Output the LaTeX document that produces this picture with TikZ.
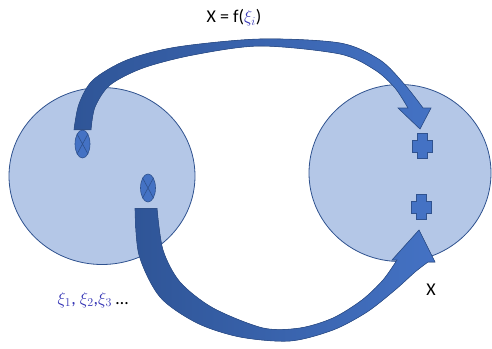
\documentclass[tikz,border=0pt]{standalone}
\usepackage{fontspec}
\setmainfont{Carlito}
\usetikzlibrary{shapes.geometric}
\definecolor{setfill}{HTML}{B4C7E7}
\definecolor{setline}{HTML}{2F528F}
\definecolor{arrdark}{HTML}{2F5597}
\definecolor{arrlight}{HTML}{4472C4}
\definecolor{xiblue}{HTML}{3535B5}
\begin{document}
\begin{tikzpicture}[x=1pt, y=-1pt, inner sep=0pt,
   set/.style={ellipse, draw=setline, fill=setfill, line width=.8pt},
   elem/.style={ellipse, draw=setline, fill=arrlight, line width=.6pt, minimum width=15pt, minimum height=28pt},
   band/.style={draw=setline, line width=.6pt, left color=arrdark, right color=arrlight},
   lbl/.style={font=\fontsize{18}{22}\selectfont}]
   \useasboundingbox (0,0) rectangle (492,348);
   \node[set, minimum width=186pt, minimum height=177pt] (A) at (102,176) {};
   \node[set, minimum width=182pt, minimum height=177pt] (B) at (400,173) {};
   \node[elem] (a1) at (82.5,144) {};
   \node[elem] (a2) at (148,188) {};
   \draw[setline, line width=.6pt] (a1.north west) -- (a1.south east) (a1.north east) -- (a1.south west);
   \draw[setline, line width=.6pt] (a2.north west) -- (a2.south east) (a2.north east) -- (a2.south west);
   \coordinate (b1) at (422,146);
   \coordinate (b2) at (421,207);
   \foreach \p in {b1,b2}
      \filldraw[draw=setline, fill=arrlight, line width=.6pt] (\p) ++(-5,-12.5) -- ++(10,0) -- ++(0,6.5) -- ++(5,0)
         -- ++(0,12) -- ++(-5,0) -- ++(0,6.5) -- ++(-10,0) -- ++(0,-6.5) -- ++(-5,0) -- ++(0,-12) -- ++(5,0) -- cycle;
   % f maps xi to x
   \filldraw[band] plot[smooth] coordinates {([xshift=-8.5pt]a1.north) (79,104) (93,80) (127,60) (177,47) (260,39) (340,43) (380,60) (405,85) (423,108)}
      -- (431,108) -- (420,129) -- (398,108)
      -- plot[smooth] coordinates {(408,108) (395,88) (375,70) (340,54) (260,46) (193,55) (143,68) (110,85) (95,107) ([xshift=8.5pt]a1.north)} -- cycle;
   \filldraw[band] plot[smooth] coordinates {([xshift=-13pt,yshift=-6pt]a2.south) (139,255) (160,297) (197,323) (240,337) (290,341) (333,330) (367,312) (395,290) (415,272) (428,262)}
      -- (435,262) -- (419,230) -- (392,260)
      -- plot[smooth] coordinates {(397,260) (383,280) (362,300) (333,318) (300,328) (263,328) (213,308) (180,282) (163,250) ([xshift=9pt,yshift=-6pt]a2.south)} -- cycle;
   \node[lbl] (f) at (234,18) {X = f(\textcolor{xiblue}{$\xi_i$})};
   \node[lbl, text=xiblue] (xi) at (93,300) {$\xi_1$, $\xi_2$,$\xi_3$ \textcolor{black}{…}};
   \node[lbl] (x) at (431,290) {X};
\end{tikzpicture}
\end{document}
